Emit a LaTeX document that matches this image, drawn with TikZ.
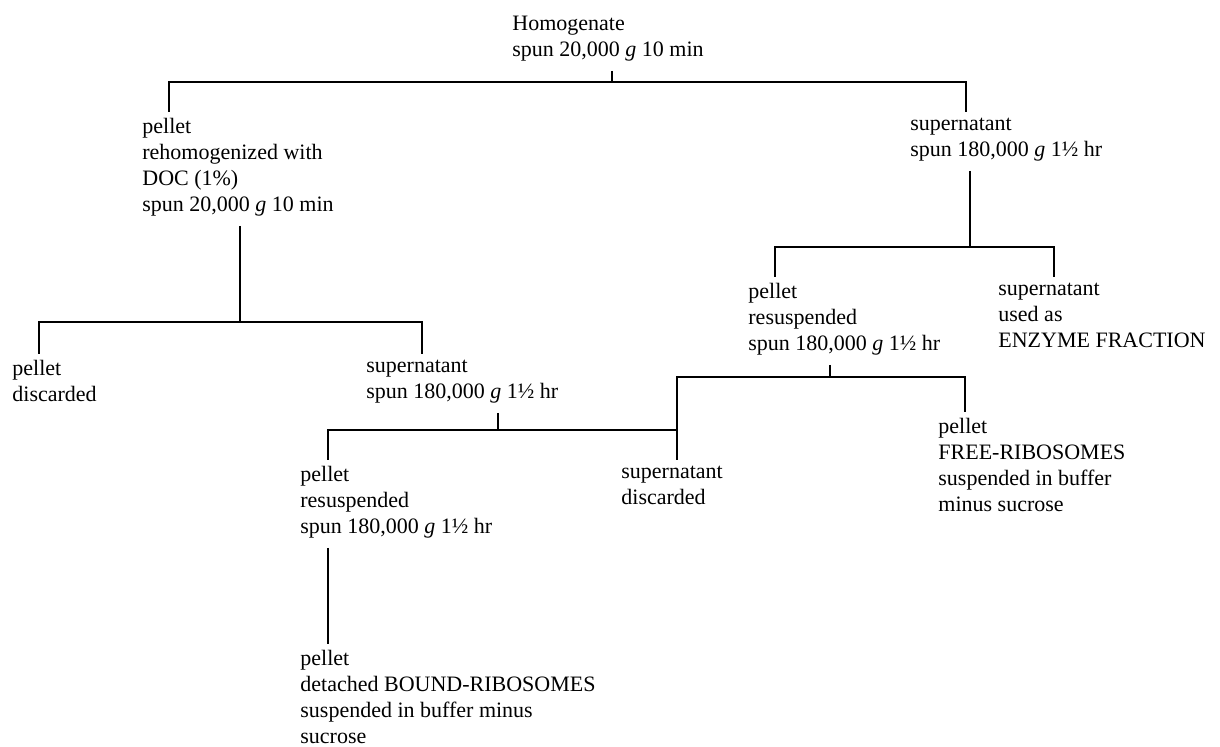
\documentclass[tikz,border=0pt]{standalone}
\usepackage{fontspec}
\setmainfont{Liberation Serif}
\usetikzlibrary{positioning,calc}

\begin{document}
\begin{tikzpicture}[x=0.5pt,y=-0.5pt,
  stage/.style={anchor=north west,align=left,inner xsep=0pt,inner ysep=3pt,
    font=\fontsize{11}{13}\selectfont,execute at begin node=\strut,execute at end node=\strut},
  link/.style={draw=black,line width=0.7pt}]
  \useasboundingbox (0,0) rectangle (1220,747);
  % fractions
  \node[stage] (hom)  at (512,10)  {Homogenate\\spun 20,000 \textit{g} 10 min};
  \node[stage] (pel1) at (142,112) {pellet\\rehomogenized with\\DOC (1\%)\\spun 20,000 \textit{g} 10 min};
  \node[stage] (sup1) at (910,112) {supernatant\\spun 180,000 \textit{g} 1½ hr};
  \node[stage] (pel2) at (12,354)  {pellet\\discarded};
  \node[stage] (sup2) at (366,354) {supernatant\\spun 180,000 \textit{g} 1½ hr};
  \node[stage] (pel3) at (748,277) {pellet\\resuspended\\spun 180,000 \textit{g} 1½ hr};
  \node[stage] (sup3) at (998,277) {supernatant\\used as\\ENZYME FRACTION};
  \node[stage] (pel4) at (300,460) {pellet\\resuspended\\spun 180,000 \textit{g} 1½ hr};
  \node[stage] (sup4) at (621,460) {supernatant\\discarded};
  \node[stage] (pel5) at (938,412) {pellet\\FREE-RIBOSOMES\\suspended in buffer\\minus sucrose};
  \node[stage] (pel6) at (300,644) {pellet\\detached BOUND-RIBOSOMES\\suspended in buffer minus\\sucrose};
  % branch points
  \coordinate (j0) at (612,82);
  \coordinate (j1) at (240,322);
  \coordinate (j2) at (970,247);
  \coordinate (j3) at (498,430);
  \coordinate (j4) at (830,377);
  \draw[link] (j0 |- hom.south) -- (j0);
  \draw[link] ([xshift=13.5pt]pel1.north west) |- (j0) -| ([xshift=28pt]sup1.north west);
  \draw[link] (j1 |- pel1.south) -- (j1);
  \draw[link] ([xshift=13.5pt]pel2.north west) |- (j1) -| ([xshift=28pt]sup2.north west);
  \draw[link] (j2 |- sup1.south) -- (j2);
  \draw[link] ([xshift=13.5pt]pel3.north west) |- (j2) -| ([xshift=28pt]sup3.north west);
  \draw[link] (j3 |- sup2.south) -- (j3);
  \draw[link] ([xshift=14pt]pel4.north west) |- (j3) -| ([xshift=28pt]sup4.north west);
  \draw[link] (j4 |- pel3.south) -- (j4);
  \draw[link] ([xshift=28pt]sup4.north west) |- (j4) -| ([xshift=13.5pt]pel5.north west);
  \draw[link] ([xshift=14pt]pel4.south west) -- ([xshift=14pt]pel6.north west);
\end{tikzpicture}
\end{document}
